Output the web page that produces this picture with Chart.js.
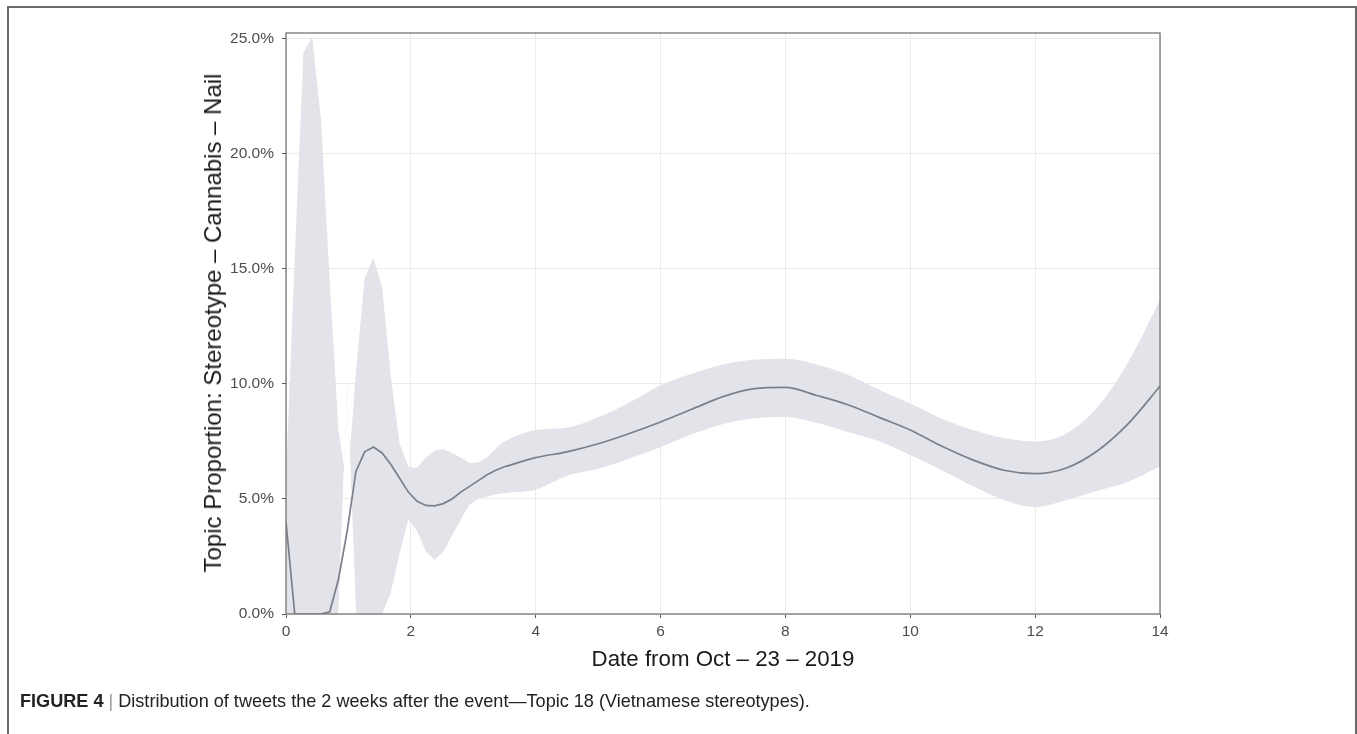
<!DOCTYPE html>
<html>
<head>
<meta charset="utf-8">
<title>Figure 4 - Topic 18</title>
<script src="https://cdn.jsdelivr.net/npm/chart.js@4.4.1/dist/chart.umd.min.js"></script>
<style>
  html, body { margin: 0; padding: 0; background: #fff; }
  body { width: 1357px; height: 734px; position: relative; overflow: hidden; font-family: "Liberation Sans", Arial, sans-serif; }
  #frame { position: absolute; left: 7px; top: 6px; width: 1346px; height: 740px; border: 2px solid #6b6b6b; border-bottom: none; }
  #wrap { position: absolute; left: 0; top: 0; width: 1357px; height: 734px; }
  .ytitle { position: absolute; left: 213px; top: 323px; transform: translate(-50%, -50%) rotate(-90deg); white-space: nowrap; font-size: 24px; color: #1a1a1a; }
  .xtitle { position: absolute; left: 723px; top: 646px; transform: translateX(-50%); white-space: nowrap; font-size: 22.3px; color: #1a1a1a; }
  .caption { position: absolute; left: 20px; top: 691px; white-space: nowrap; font-size: 18.1px; color: #222; }
  .caption b { font-weight: bold; }
  .caption .bar { color: #999; }
</style>
</head>
<body>
<div id="frame"></div>
<div id="wrap"><canvas id="kt_chart"></canvas></div>
<div class="ytitle">Topic Proportion: Stereotype – Cannabis – Nail</div>
<div class="xtitle">Date from Oct – 23 – 2019</div>
<div class="caption"><b>FIGURE 4</b> <span class="bar">|</span> Distribution of tweets the 2 weeks after the event—Topic 18 (Vietnamese stereotypes).</div>

<script>
// Days after the event (x positions of the estimates)
var days = [0, 0.14, 0.28, 0.42, 0.56, 0.70, 0.84, 0.98, 1.12, 1.26, 1.40, 1.54, 1.68, 1.82, 1.96,
  2.10, 2.24, 2.38, 2.52, 2.66, 2.80, 2.94, 3.08, 3.22, 3.36, 3.50,
  4.0, 4.5, 5.0, 5.5, 6.0, 6.5, 7.0, 7.5, 8.0, 8.5, 9.0, 9.5, 10.0, 10.5, 11.0, 11.5, 12.0, 12.5, 13.0, 13.5, 14.0];

// Estimated topic proportion (%)
var meanValues = [4.0, 0, 0, 0, 0, 0.1, 1.5, 3.6, 6.2, 7.05, 7.26, 7.0, 6.5, 5.9, 5.3,
  4.9, 4.72, 4.7, 4.8, 5.0, 5.3, 5.55, 5.8, 6.05, 6.25, 6.4,
  6.8, 7.05, 7.4, 7.85, 8.35, 8.9, 9.45, 9.8, 9.85, 9.5, 9.1, 8.55, 8.0, 7.3, 6.7, 6.25, 6.1, 6.35, 7.1, 8.3, 9.9];

// Upper bound of the confidence band (%)
var upperValues = [6.0, 15.5, 24.4, 25.1, 21.5, 14.5, 8.0, 5.5, 10.5, 14.6, 15.5, 14.2, 10.3, 7.4, 6.4,
  6.35, 6.8, 7.1, 7.17, 7.0, 6.8, 6.55, 6.6, 6.8, 7.2, 7.5,
  8.0, 8.1, 8.55, 9.2, 9.95, 10.45, 10.85, 11.05, 11.1, 10.85, 10.4, 9.75, 9.15, 8.5, 8.0, 7.65, 7.5, 7.85, 9.0, 11.0, 13.65];

// Lower bound of the confidence band (%)
var lowerValues = [0, 0, 0, 0, 0, 0, 0, 10.0, 0, 0, 0, 0, 0.9, 2.6, 4.1,
  3.6, 2.7, 2.35, 2.7, 3.4, 4.1, 4.75, 5.0, 5.1, 5.2, 5.25,
  5.4, 6.0, 6.3, 6.75, 7.25, 7.8, 8.25, 8.5, 8.55, 8.3, 7.9, 7.5, 6.9, 6.25, 5.55, 4.95, 4.65, 4.95, 5.35, 5.75, 6.4];

// Tick labels
var xTickLabels = [0, 2, 4, 6, 8, 10, 12, 14];
var yTickLabels = [0, 5, 10, 15, 20, 25];

// Index where the sampling gets coarse (day 3.5): the first part is drawn
// as straight segments, the smooth tail with monotone curves
var splitIndex = 25;

function toPoints(values, from, to) {
  var pts = [];
  for (var i = from; i < to; i++) {
    pts.push({ x: days[i], y: values[i] });
  }
  return pts;
}

// Define colors
var bandColor = 'rgb(227,228,233)';
var lineColor = '#7c7f8b';

// Panel border (full box like the ggplot panel)
var panelBorder = {
  id: 'panelBorder',
  afterDatasetsDraw: function (chart) {
    var a = chart.chartArea;
    var ctx = chart.ctx;
    ctx.save();
    ctx.strokeStyle = '#767676';
    ctx.lineWidth = 1.3;
    ctx.strokeRect(a.left, a.top, a.right - a.left, a.bottom - a.top);
    ctx.restore();
  }
};

function meanSet(from, to, mode) {
  return {
    label: 'Estimate',
    data: toPoints(meanValues, from, to),
    borderColor: lineColor,
    borderWidth: 1.7,
    pointRadius: 0,
    cubicInterpolationMode: mode,
    fill: false
  };
}
function boundSet(values, from, to, mode, fill) {
  return {
    label: 'Bound',
    data: toPoints(values, from, to),
    borderWidth: 0,
    borderColor: 'transparent',
    pointRadius: 0,
    cubicInterpolationMode: mode,
    fill: fill
  };
}

var bandFill = { target: '+1', above: bandColor, below: 'rgba(0,0,0,0)' };
var n = days.length;

var tickFont = { family: '"Liberation Sans", Arial, sans-serif', size: 15.5 };

var config = {
  type: 'line',
  data: {
    datasets: [
      meanSet(0, splitIndex + 1, 'default'),
      meanSet(splitIndex, n, 'monotone'),
      boundSet(upperValues, 0, splitIndex + 1, 'default', bandFill),
      boundSet(lowerValues, 0, splitIndex + 1, 'default', false),
      boundSet(upperValues, splitIndex - 1, n, 'monotone', bandFill),
      boundSet(lowerValues, splitIndex - 1, n, 'monotone', false)
    ]
  },
  options: {
    responsive: true,
    maintainAspectRatio: false,
    animation: false,
    elements: { line: { tension: 0 } },
    layout: { padding: { left: 0, right: 197, top: 33, bottom: 80 } },
    plugins: {
      legend: { display: false },
      tooltip: { enabled: false },
      title: { display: false }
    },
    scales: {
      x: {
        type: 'linear',
        min: 0,
        max: 14,
        afterFit: function (scale) { scale.height = 40; },
        afterBuildTicks: function (scale) {
          scale.ticks = xTickLabels.map(function (v) { return { value: v }; });
        },
        ticks: {
          autoSkip: false,
          maxRotation: 0,
          padding: 4,
          color: '#4d4d4d',
          font: tickFont
        },
        grid: {
          color: '#ebebeb',
          tickColor: '#555',
          tickLength: 4,
          lineWidth: 1
        },
        border: { display: false }
      },
      y: {
        type: 'linear',
        min: 0,
        max: 25.26,
        afterFit: function (scale) { scale.width = 286; },
        afterBuildTicks: function (scale) {
          scale.ticks = yTickLabels.map(function (v) { return { value: v }; });
        },
        ticks: {
          autoSkip: false,
          padding: 8,
          color: '#4d4d4d',
          font: tickFont,
          callback: function (v) { return v.toFixed(1) + '%'; }
        },
        grid: {
          color: '#ebebeb',
          tickColor: '#555',
          tickLength: 4,
          lineWidth: 1
        },
        border: { display: false }
      }
    }
  },
  plugins: [panelBorder]
};

var myChart = new Chart(document.getElementById('kt_chart'), config);
</script>
</body>
</html>
